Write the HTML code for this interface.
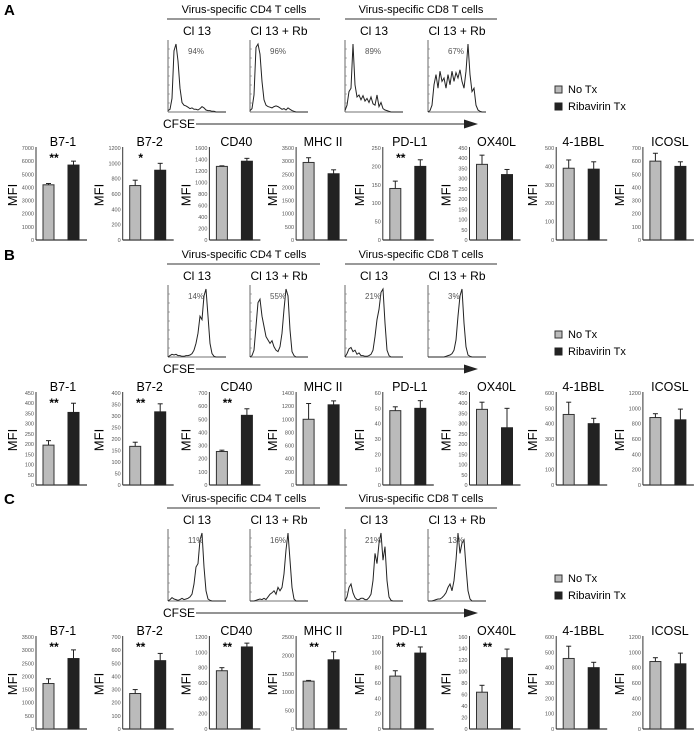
<!DOCTYPE html>
<html><head><meta charset="utf-8"><style>
body{margin:0;background:#fff;}
svg text{font-family:"Liberation Sans",sans-serif;}
</style></head><body>
<svg id="fig" width="700" height="735" viewBox="0 0 700 735" xmlns="http://www.w3.org/2000/svg"></svg>
<script>
// ---- data ----
const markers = ["B7-1","B7-2","CD40","MHC II","PD-L1","OX40L","4-1BBL","ICOSL"];
const panelLetters = ["A","B","C"];
const axisMaxA = [7000,1200,1600,3500,250,450,500,700];
const axisStepA = [1000,200,200,500,50,50,100,100];
const noTxA = [4200,710,1280,2950,140,370,390,600];
const noTxErrA = [100,70,10,180,20,45,45,60];
const ribaA = [5700,910,1370,2520,200,320,385,560];
const ribaErrA = [300,90,50,150,18,25,40,35];
const sigA = ["**","*","","","**","","",""];
const axisMaxB = [450,400,700,1400,60,450,600,1200];
const axisStepB = [50,50,100,200,10,50,100,200];
const noTxB = [195,168,255,1000,48.5,370,460,880];
const noTxErrB = [22,18,10,240,2.5,35,80,50];
const ribaB = [355,318,530,1220,50,280,400,850];
const ribaErrB = [45,35,50,60,5,95,35,140];
const sigB = ["**","**","**","","","","",""];
const axisMaxC = [3500,700,1200,2500,120,160,600,1200];
const axisStepC = [500,100,200,500,20,20,100,200];
const noTxC = [1730,270,760,1300,69,64,460,880];
const noTxErrC = [180,30,40,20,7,12,80,50];
const ribaC = [2680,520,1070,1880,99,124,400,850];
const ribaErrC = [330,55,50,220,8,15,35,140];
const sigC = ["**","**","**","**","**","**","",""];
const histLabels = ["Cl 13","Cl 13 + Rb","Cl 13","Cl 13 + Rb"];
const pctA = ["94%","96%","89%","67%"];
const pctB = ["14%","55%","21%","3%"];
const pctC = ["11%","16%","21%","13%"];
const histA = [
 [0.02,0.04,0.2,0.9,1.0,0.75,0.35,0.14,0.1,0.09,0.07,0.05,0.06,0.04,0.04,0.03,0.05,0.08,0.06,0.03,0.02,0.02,0.01,0.01,0,0,0,0,0,0],
 [0.02,0.05,0.25,0.95,1.0,0.85,0.45,0.18,0.1,0.08,0.07,0.06,0.08,0.09,0.08,0.06,0.04,0.05,0.03,0.06,0.04,0.02,0.01,0,0,0,0,0,0,0],
 [0.02,0.1,0.3,0.35,1.0,0.4,0.22,0.25,0.18,0.24,0.16,0.2,0.14,0.22,0.12,0.1,0.25,0.08,0.14,0.05,0.03,0.02,0.01,0,0,0,0,0,0,0],
 [0,0.02,0.1,0.4,0.55,0.35,0.6,0.45,0.5,0.35,0.55,0.4,0.6,0.45,0.58,0.5,0.62,0.45,0.35,0.6,1.0,0.55,0.3,0.35,0.1,0.03,0.01,0,0,0]];
const histB = [
 [0,0.02,0.04,0.03,0.04,0.02,0.02,0.01,0.01,0.02,0.02,0.03,0.05,0.1,0.2,0.35,0.6,0.55,0.9,1.0,0.6,0.2,0.05,0.01,0,0,0,0,0,0],
 [0,0.02,0.1,0.45,0.8,0.85,0.6,0.45,0.3,0.25,0.2,0.24,0.15,0.1,0.08,0.15,0.35,0.7,1.0,0.9,0.4,0.08,0.02,0,0,0,0,0,0,0],
 [0,0.05,0.12,0.14,0.08,0.1,0.04,0.06,0.02,0.02,0.01,0.01,0.02,0.04,0.1,0.3,0.55,0.7,0.95,1.0,0.5,0.1,0.02,0,0,0,0,0,0,0],
 [0,0,0,0,0,0,0,0,0,0.01,0.02,0.03,0.05,0.1,0.25,0.6,0.9,1.0,0.5,0.15,0.03,0.01,0,0,0,0,0,0,0,0]];
const histC = [
 [0,0.02,0.05,0.03,0.02,0.01,0.02,0.04,0.02,0.03,0.04,0.06,0.1,0.25,0.5,0.55,0.9,1.0,0.5,0.15,0.03,0.01,0,0,0,0,0,0,0,0],
 [0,0,0,0.01,0.02,0.03,0.02,0.04,0.02,0.06,0.1,0.12,0.15,0.1,0.2,0.15,0.2,0.4,0.75,1.0,0.6,0.2,0.03,0,0,0,0,0,0,0],
 [0,0.06,0.2,0.25,0.12,0.05,0.02,0.02,0.04,0.04,0.02,0.02,0.05,0.1,0.3,0.7,0.55,0.85,1.0,0.6,0.8,0.3,0.06,0.01,0,0,0,0,0,0],
 [0,0,0,0.01,0.02,0.03,0.03,0.05,0.08,0.12,0.2,0.25,0.15,0.3,0.6,1.0,0.7,0.85,0.9,0.5,0.15,0.03,0,0,0,0,0,0,0,0]];

const panels = [
 {max:axisMaxA,step:axisStepA,n:noTxA,ne:noTxErrA,r:ribaA,re:ribaErrA,sig:sigA,pct:pctA,hist:histA},
 {max:axisMaxB,step:axisStepB,n:noTxB,ne:noTxErrB,r:ribaB,re:ribaErrB,sig:sigB,pct:pctB,hist:histB},
 {max:axisMaxC,step:axisStepC,n:noTxC,ne:noTxErrC,r:ribaC,re:ribaErrC,sig:sigC,pct:pctC,hist:histC}];
const panelOffsets = [0,245,489];

const NS="http://www.w3.org/2000/svg";
const svg=document.getElementById('fig');
function mk(tag,attrs,parent,txt){const e=document.createElementNS(NS,tag);for(const k in attrs)e.setAttribute(k,attrs[k]);if(txt!==undefined)e.textContent=txt;(parent||svg).appendChild(e);return e;}

const histX=[168,250,345,428], histW=58, histTop=40, histBot=112;

panels.forEach((p,pi)=>{
 const oy=panelOffsets[pi];
 const g=mk('g',{transform:`translate(0,${oy})`});
 
 
 const L=mk('text',{x:4,y:15,'font-size':15,'font-weight':'bold'},g,panelLetters[pi]);
 
 
 [[244,167,320,"Virus-specific CD4 T cells"],[421,345,497,"Virus-specific CD8 T cells"]].forEach(h=>{
  const t=mk('text',{x:h[0],y:13,'font-size':11,'text-anchor':'middle'},g,h[3]);
  
  
  mk('line',{x1:h[1],x2:h[2],y1:19,y2:19,stroke:'#333','stroke-width':1},g);
 });
 p.hist.forEach((h,hi)=>{
  const x0=histX[hi];
  const hg=mk('g',{},g);
  
  
  const lab=mk('text',{x:x0+histW/2,y:35,'font-size':12,'text-anchor':'middle'},hg,histLabels[hi]);
  
  
  mk('line',{x1:x0,x2:x0,y1:histTop,y2:histBot,stroke:'#444','stroke-width':0.8},hg);
  mk('line',{x1:x0,x2:x0+histW,y1:histBot,y2:histBot,stroke:'#444','stroke-width':0.8},hg);
  for(let k=0;k<8;k++){mk('line',{x1:x0,x2:x0+2,y1:histBot-k*9,y2:histBot-k*9,stroke:'#666','stroke-width':0.5},hg);}
  const bw=histW/(h.length-1);
  let d='';
  h.forEach((v,i)=>{d+=(i?'L':'M')+(x0+i*bw).toFixed(1)+','+(histBot-v*(histBot-histTop-4)).toFixed(1);});
  const pth=mk('path',{d:d,fill:'none',stroke:'#222','stroke-width':1},hg);
  
  
  const pc=mk('text',{x:x0+20,y:54,'font-size':8,fill:'#555'},hg,p.pct[hi]);
  
  
 });
 const cf=mk('text',{x:163,y:128,'font-size':12},g,'CFSE');
 
 
 mk('line',{x1:196,x2:472,y1:124,y2:124,stroke:'#555','stroke-width':1.3},g);
 mk('polygon',{points:'464,119.5 478,124 464,128.5',fill:'#222'},g);
 const lg=mk('g',{},g);
 
 
 mk('rect',{x:555,y:86,width:7,height:7,fill:'#bbb',stroke:'#333','stroke-width':1},lg);
 mk('text',{x:568,y:93,'font-size':11},lg,'No Tx');
 mk('rect',{x:555,y:103,width:7,height:7,fill:'#222',stroke:'#222','stroke-width':1},lg);
 mk('text',{x:568,y:110,'font-size':11},lg,'Ribavirin Tx');
 const base=240, top=148;
 markers.forEach((m,mi)=>{
  const ax=36+86.7*mi;
  const cg=mk('g',{},g);
  
  
  const yS=v=>base-(v/p.max[mi])*(base-top);
  const t=mk('text',{x:ax+27,y:146,'font-size':12.5,'text-anchor':'middle'},cg,m);
  
  
  const ml=mk('text',{x:0,y:0,'font-size':13,'text-anchor':'middle',transform:`translate(${ax-19},${(base+top)/2+1}) rotate(-90)`},cg,'MFI');
  
  
  mk('line',{x1:ax,x2:ax,y1:top-1,y2:base,stroke:'#333','stroke-width':1},cg);
  mk('line',{x1:ax,x2:ax+51,y1:base,y2:base,stroke:'#333','stroke-width':1.2},cg);
  for(let v=0;v<=p.max[mi]+1e-9;v+=p.step[mi]){
   const tl=mk('text',{x:ax-2,y:yS(v)+2,'font-size':5.5,fill:'#555','text-anchor':'end'},cg,String(Math.round(v)));
   
   
  }
  [[p.n[mi],p.ne[mi],ax+7,'#bbb','#333','no-tx'],[p.r[mi],p.re[mi],ax+32,'#222','#222','ribavirin']].forEach(b=>{
   const y=yS(b[0]);
   const r=mk('rect',{x:b[2],y:y,width:11,height:base-y,fill:b[3],stroke:b[4],'stroke-width':1},cg);
   
   
   const ye=yS(b[0]+b[1]);
   mk('line',{x1:b[2]+5.5,x2:b[2]+5.5,y1:y,y2:ye,stroke:'#222','stroke-width':1},cg);
   mk('line',{x1:b[2]+3,x2:b[2]+8,y1:ye,y2:ye,stroke:'#222','stroke-width':1},cg);
  });
  if(p.sig[mi]){
   const s=mk('text',{x:ax+18,y:top+14,'font-size':12,'font-weight':'bold','text-anchor':'middle'},cg,p.sig[mi]);
   
   
  }
 });
});
</script>
</body></html>
